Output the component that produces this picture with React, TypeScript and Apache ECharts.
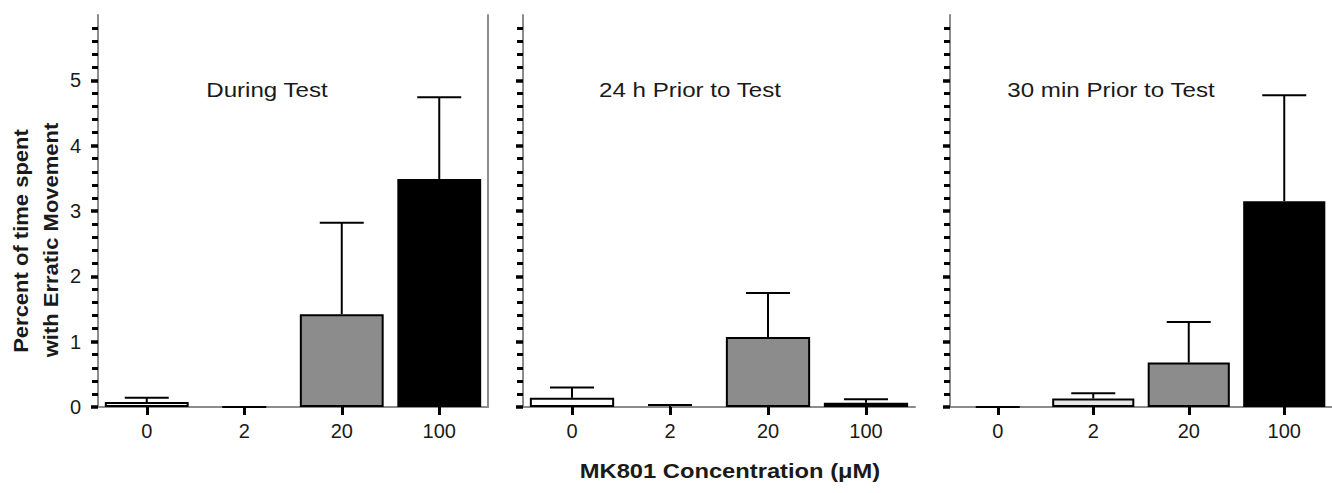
import React, { useEffect, useRef } from "react";
import * as echarts from "echarts";

const categories = ["0", "2", "20", "100"];
const panelTitles = ["During Test", "24 h Prior to Test", "30 min Prior to Test"];
const duringMean = [0.075, 0, 1.42, 3.49];
const duringUpper = [0.14, 0, 2.82, 4.74];
const prior24Mean = [0.14, 0, 1.07, 0.066];
const prior24Upper = [0.3, 0.03, 1.745, 0.12];
const prior30Mean = [0, 0.13, 0.68, 3.15];
const prior30Upper = [0, 0.21, 1.3, 4.77];
const barColors = ["#ffffff", "#e6e6e6", "#8c8c8c", "#000000"];
const yTickValues = [0, 1, 2, 3, 4, 5];
const yTitle = ["Percent of time spent", "with Erratic Movement"];
const xTitle = "MK801 Concentration (\u03bcM)";

const FONT = "'Liberation Sans', Arial, sans-serif";

export default function App() {
  const ref = useRef<HTMLDivElement>(null);
  useEffect(() => {
    if (!ref.current) return;
    const chart = echarts.init(ref.current, null, { renderer: "svg" });
    const means = [duringMean, prior24Mean, prior30Mean];
    const uppers = [duringUpper, prior24Upper, prior30Upper];
    const grids = [
      { left: 98, top: 15, width: 390, height: 392 },
      { left: 523, top: 15, width: 392, height: 392 },
      { left: 950, top: 15, width: 392, height: 392 },
    ];
    const yAxisIdx = [0, 2, 3];
    const mkY = (gi: number, showLabel: boolean) => ({
      type: "value",
      gridIndex: gi,
      min: 0,
      max: 6,
      interval: 1,
      axisLine: { show: true, lineStyle: { color: "#8c8c8c", width: 2 } },
      axisTick: { show: true, length: 7, lineStyle: { color: "#000", width: 3.5 }, customValues: yTickValues },
      minorTick: { show: true, splitNumber: 5, length: 6, lineStyle: { color: "#000", width: 3 } },
      splitLine: { show: false },
      axisLabel: showLabel
        ? { show: true, customValues: yTickValues, fontSize: 20, color: "#1a1a1a", fontFamily: FONT, margin: 17,
            formatter: (v: number) => (v > 5.5 ? "" : String(v)) }
        : { show: false },
    });
    const yAxis: any[] = [
      mkY(0, true),
      {
        type: "value", gridIndex: 0, position: "right", min: 0, max: 6,
        axisLine: { show: true, lineStyle: { color: "#8c8c8c", width: 2 } },
        axisTick: { show: false }, axisLabel: { show: false }, splitLine: { show: false },
      },
      mkY(1, false),
      mkY(2, false),
    ];
    const xAxis = grids.map((_, gi) => ({
      type: "category",
      gridIndex: gi,
      data: categories,
      axisLine: { show: true, lineStyle: { color: "#8c8c8c", width: 2 } },
      axisTick: { show: true, alignWithLabel: true, length: 8, lineStyle: { color: "#000", width: 3 } },
      axisLabel: { fontSize: 20, color: "#1a1a1a", fontFamily: FONT, margin: 14 },
    }));
    const series: any[] = [];
    grids.forEach((_, gi) => {
      series.push({
        type: "bar",
        xAxisIndex: gi,
        yAxisIndex: yAxisIdx[gi],
        barWidth: "86%",
        z: 3,
        data: means[gi].map((v, i) => ({
          value: v,
          itemStyle: { color: barColors[i], borderColor: "#000", borderWidth: v === 0 ? 0 : 2 },
        })),
      });
      series.push({
        type: "custom",
        xAxisIndex: gi,
        yAxisIndex: yAxisIdx[gi],
        z: 4,
        data: means[gi].map((v, i) => [i, v, uppers[gi][i]]),
        renderItem: (params: any, api: any) => {
          const i = api.value(0);
          const base = api.coord([i, api.value(1)]);
          const top = api.coord([i, api.value(2)]);
          const half = 22;
          const st = { stroke: "#000", lineWidth: 2 };
          return {
            type: "group",
            children: [
              { type: "line", shape: { x1: base[0], y1: base[1], x2: top[0], y2: top[1] }, style: st },
              { type: "line", shape: { x1: top[0] - half, y1: top[1], x2: top[0] + half, y2: top[1] }, style: st },
            ],
          };
        },
      });
    });
    const titleX = [267, 690, 1111];
    const graphic: any[] = titleX.map((x, i) => ({
      type: "text",
      x,
      y: 90,
      scaleX: 1.15,
      style: { text: panelTitles[i], fontSize: 21, fontFamily: FONT, fill: "#1a1a1a", textAlign: "center", textVerticalAlign: "middle" },
    }));
    graphic.push(
      { type: "text", x: 21, y: 241, rotation: Math.PI / 2, scaleX: 1.1,
        style: { text: yTitle[0], fontSize: 20, fontWeight: "bold", fontFamily: FONT, fill: "#1a1a1a", textAlign: "center", textVerticalAlign: "middle" } },
      { type: "text", x: 51, y: 240, rotation: Math.PI / 2, scaleX: 1.1,
        style: { text: yTitle[1], fontSize: 20, fontWeight: "bold", fontFamily: FONT, fill: "#1a1a1a", textAlign: "center", textVerticalAlign: "middle" } },
      { type: "text", x: 730, y: 471, scaleX: 1.13,
        style: { text: xTitle, fontSize: 21, fontWeight: "bold", fontFamily: FONT, fill: "#1a1a1a", textAlign: "center", textVerticalAlign: "middle" } }
    );
    chart.setOption({
      animation: false,
      backgroundColor: "#ffffff",
      grid: grids,
      xAxis,
      yAxis,
      series,
      graphic,
    });
    return () => chart.dispose();
  }, []);
  return (
    <div style={{ position: "fixed", left: 0, top: 0, width: 1332, height: 493, overflow: "hidden", background: "#fff" }}>
      <div ref={ref} style={{ width: 1332, height: 493 }} />
    </div>
  );
}
